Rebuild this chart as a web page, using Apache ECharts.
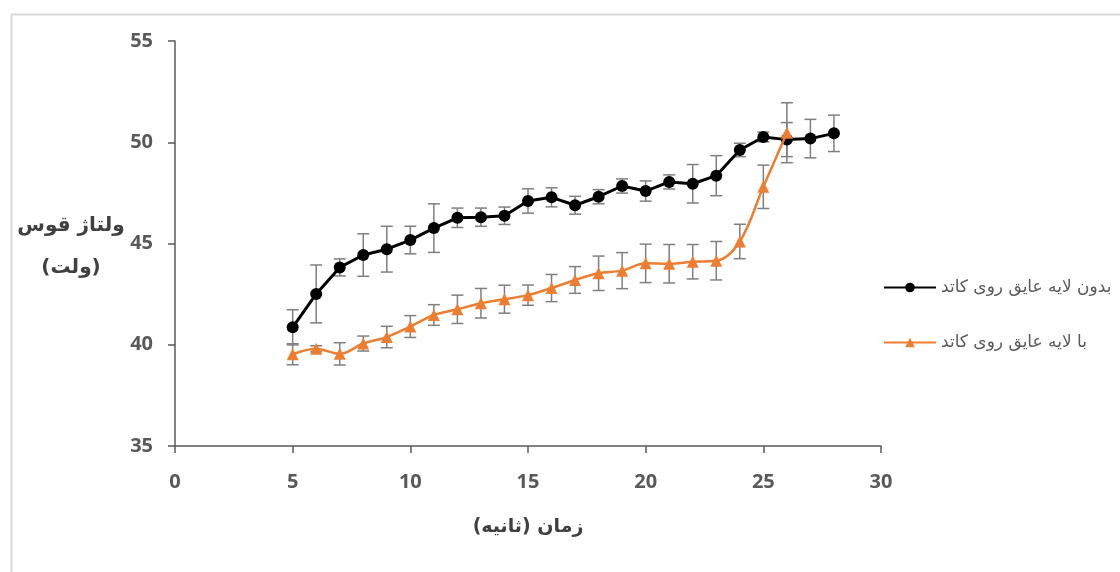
<!DOCTYPE html>
<html><head><meta charset="utf-8">
<script src="https://cdn.jsdelivr.net/npm/echarts@6/dist/echarts.min.js"></script>
<style>html,body{margin:0;padding:0;background:#fff}#c{width:1120px;height:572px}</style>
</head><body><div id="c"></div>
<script>
const xValuesA = [5,6,7,8,9,10,11,12,13,14,15,16,17,18,19,20,21,22,23,24,25,26,27,28];
const valuesA = [40.86,42.51,43.82,44.43,44.72,45.17,45.76,46.27,46.3,46.37,47.1,47.28,46.89,47.31,47.84,47.59,48.04,47.95,48.35,49.62,50.26,50.13,50.18,50.44];
const errA = [0.87,1.43,0.42,1.05,1.13,0.68,1.2,0.48,0.45,0.43,0.6,0.47,0.44,0.35,0.35,0.5,0.35,0.95,0.99,0.33,0.24,0.84,0.95,0.9];
const xValuesB = [5,6,7,8,9,10,11,12,13,14,15,16,17,18,19,20,21,22,23,24,25,26];
const valuesB = [39.53,39.8,39.55,40.06,40.38,40.9,41.47,41.75,42.05,42.25,42.45,42.8,43.2,43.53,43.66,44.02,44.0,44.1,44.15,45.1,47.8,50.47];
const errB = [0.52,0.15,0.55,0.37,0.53,0.54,0.51,0.7,0.73,0.69,0.5,0.67,0.66,0.85,0.89,0.95,0.95,0.85,0.95,0.85,1.07,1.48];
const nameA = 'بدون لایه عایق روی کاتد';
const nameB = 'با لایه عایق روی کاتد';
const xTitle = 'زمان (ثانیه)';
const yTitleLine1 = 'ولتاژ قوس';
const yTitleLine2 = '(ولت)';

const arabicFont = "'DejaVu Sans','Noto Sans',sans-serif";
const numFont = "'Liberation Sans Narrow','Open Sans','Liberation Sans',sans-serif";

function errData(xs, vs, es){ return xs.map((x,i)=>[x, vs[i]-es[i], vs[i]+es[i]]); }
function errRender(params, api){
  const x = api.value(0);
  const lo = api.coord([x, api.value(1)]);
  const hi = api.coord([x, api.value(2)]);
  const w = 6;
  const st = {stroke:'#7f7f7f', lineWidth:1.5};
  return {type:'group', children:[
    {type:'line', shape:{x1:lo[0],y1:lo[1],x2:hi[0],y2:hi[1]}, style:st},
    {type:'line', shape:{x1:lo[0]-w,y1:lo[1],x2:lo[0]+w,y2:lo[1]}, style:st},
    {type:'line', shape:{x1:hi[0]-w,y1:hi[1],x2:hi[0]+w,y2:hi[1]}, style:st}
  ]};
}

const chart = echarts.init(document.getElementById('c'), null, {renderer:'canvas'});
chart.setOption({
  backgroundColor:'#fff',
  animation:false,
  graphic:[
    {type:'rect', left:9, top:12, shape:{width:1200, height:700}, style:{fill:'none', stroke:'#d9d9d9', lineWidth:2}, z:-1},
    {type:'text', x:71, y:226, style:{text:yTitleLine1, font:"bold 20px "+arabicFont, fill:'#404040', align:'center', verticalAlign:'middle'}},
    {type:'text', x:71, y:268, style:{text:yTitleLine2, font:"bold 20px "+arabicFont, fill:'#404040', align:'center', verticalAlign:'middle'}}
  ],
  grid:{left:175, right:239, top:41, bottom:126},
  legend:{
    orient:'vertical', left:878, top:274, itemGap:38, itemWidth:52, itemHeight:12,
    textStyle:{fontFamily:arabicFont, fontSize:17, color:'#595959'},
    data:[nameA, nameB]
  },
  xAxis:{
    type:'value', min:0, max:30, interval:5,
    name:xTitle, nameLocation:'middle', nameGap:72,
    nameTextStyle:{fontFamily:arabicFont, fontWeight:'bold', fontSize:19, color:'#404040'},
    axisLine:{lineStyle:{color:'#595959', width:1.5}},
    axisTick:{show:true, inside:false, length:7, lineStyle:{color:'#595959', width:1.5}},
    axisLabel:{margin:26, fontFamily:numFont, fontWeight:'bold', fontSize:20, color:'#595959'},
    splitLine:{show:false}
  },
  yAxis:{
    type:'value', min:35, max:55, interval:5,
    axisLine:{show:true, lineStyle:{color:'#595959', width:1.5}},
    axisTick:{show:true, inside:false, length:7, lineStyle:{color:'#595959', width:1.5}},
    axisLabel:{margin:22, fontFamily:numFont, fontWeight:'bold', fontSize:20, color:'#595959'},
    splitLine:{show:false}
  },
  series:[
    {type:'custom', renderItem:errRender, data:errData(xValuesA, valuesA, errA), z:1, silent:true},
    {type:'custom', renderItem:errRender, data:errData(xValuesB, valuesB, errB), z:1, silent:true},
    {name:nameA, type:'line', data:xValuesA.map((x,i)=>[x, valuesA[i]]), z:3,
     symbol:'circle', symbolSize:12, itemStyle:{color:'#000'}, lineStyle:{color:'#000', width:3}},
    {name:nameB, type:'line', data:xValuesB.map((x,i)=>[x, valuesB[i]]), z:4, smooth:0.35,
     symbol:'triangle', symbolSize:12, itemStyle:{color:'#ed7d31'}, lineStyle:{color:'#ed7d31', width:2.5}}
  ]
});
</script></body></html>
